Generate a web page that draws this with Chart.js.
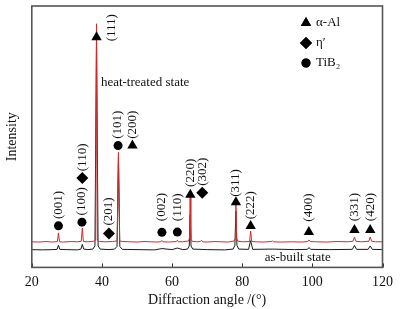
<!DOCTYPE html>
<html>
<head>
<meta charset="utf-8">
<script src="https://cdn.jsdelivr.net/npm/chart.js@4"></script>
<style>
  html, body { margin: 0; padding: 0; background: #fff; }
  #wrap { width: 400px; height: 309px; }
</style>
</head>
<body>
<div id="wrap"><canvas id="xrd"></canvas></div>
<script>
// Heat-treated pattern (red)
const redAngle = [20, 22, 24, 26, 27.3, 27.6, 27.9, 29, 31, 33, 34.1, 34.4, 34.7, 36, 37.6, 38.2, 38.45, 38.7, 39.3,
  41, 43, 44.35, 44.7, 45.05, 45.8, 48, 50, 52, 54, 56, 56.8, 57.1, 57.4, 59, 61.2, 61.5, 61.8, 63, 64.7, 64.95, 65.15,
  65.35, 65.7, 67, 68.1, 68.4, 68.7, 70, 72, 74, 76, 77.7, 78.0, 78.2, 78.4, 78.8, 80, 82.1, 82.4, 82.7, 84, 86, 88.3,
  88.6, 88.9, 91, 94, 97, 98.7, 99.05, 99.4, 101, 104, 107, 110, 111.6, 112.0, 112.4, 114, 116.1, 116.5, 116.9, 118, 120];
const redIntensity = [98, 97, 99, 97, 99, 132, 98, 97, 99, 98, 100, 150, 99, 98, 100, 104, 932, 104, 99,
  98, 99, 101, 440, 101, 99, 98, 97, 99, 98, 97, 99, 103, 98, 97, 99, 104, 98, 98, 101, 110, 268,
  110, 100, 98, 99, 104, 98, 97, 99, 98, 97, 101, 110, 244, 110, 100, 98, 99, 139, 99, 98, 97, 99,
  102, 98, 97, 98, 97, 99, 105, 99, 98, 97, 99, 98, 100, 116, 100, 98, 100, 116, 100, 98, 98];

// As-built pattern (black)
const blackAngle = [20, 23, 26, 27.2, 27.6, 28.0, 30, 33, 34.0, 34.4, 34.8, 36, 37.4, 38.0, 38.45, 38.9, 39.5,
  42, 43.6, 44.3, 44.7, 45.1, 45.8, 50, 55, 57.1, 60, 61.5, 63, 64.4, 64.9, 65.15, 65.4, 65.9, 70, 75, 77.4, 77.9,
  78.2, 78.5, 79.0, 81.8, 82.4, 83.0, 88.6, 95, 98.6, 99.05, 99.5, 105, 111.4, 112.0, 112.6, 115.9, 116.5, 117.1, 120];
const blackIntensity = [68, 67, 68, 69, 85, 69, 68, 67, 70, 88, 70, 68, 70, 82, 880, 82, 70,
  68, 70, 80, 420, 80, 69, 68, 67, 72, 68, 74, 68, 70, 82, 200, 82, 70, 68, 67, 70, 84,
  215, 84, 70, 69, 102, 69, 70, 68, 69, 76, 69, 68, 69, 84, 69, 69, 82, 69, 68];

// Phase markers (angle, intensity)
const alAngle = [38.46, 48.7, 65.2, 78.2, 82.4, 99.0, 112.0, 116.5];
const alIntensity = [880, 466, 278, 249, 158, 135, 143, 143];
const etaAngle = [34.4, 42.0, 68.6];
const etaIntensity = [342, 130, 286];
const tib2Angle = [27.6, 34.3, 44.6, 57.1, 61.5];
const tib2Intensity = [159, 173, 466, 134, 135];

// Miller index labels (rotated), anchored at their lower end
const hklText = ['(111)', '(001)', '(100)', '(110)', '(201)', '(101)', '(200)', '(002)', '(110)',
  '(220)', '(302)', '(311)', '(222)', '(400)', '(331)', '(420)'];
const hklAngle = [42.7, 27.6, 34.3, 34.4, 42.0, 44.6, 48.7, 57.1, 61.5, 65.2, 68.6, 78.2, 82.4, 99.0, 112.0, 116.5];
const hklIntensity = [865, 185, 199, 368, 160, 492, 492, 177, 177, 308, 312, 270, 184, 175, 177, 177];

const legendText = ['α-Al', 'η′', 'TiB₂'];
const legendStyle = ['triangle', 'rectRot', 'circle'];

const SERIF = "'Liberation Serif', 'DejaVu Serif', serif";
const toXY = (xs, ys) => xs.map((x, i) => ({ x: x, y: ys[i] }));

const framePlugin = {
  id: 'frame',
  afterDraw(chart) {
    const { ctx, chartArea: a, scales } = chart;
    ctx.save();
    // inward ticks on the angle axis
    ctx.strokeStyle = '#333';
    ctx.lineWidth = 1;
    scales.x.ticks.forEach(t => {
      const px = Math.round(scales.x.getPixelForValue(t.value)) + 0.5;
      ctx.beginPath();
      ctx.moveTo(px, a.bottom);
      ctx.lineTo(px, a.bottom - 4);
      ctx.stroke();
    });
    ctx.strokeStyle = '#555';
    ctx.lineWidth = 1.6;
    ctx.strokeRect(a.left, a.top, a.right - a.left, a.bottom - a.top);
    ctx.restore();
  }
};

const labelPlugin = {
  id: 'hkl',
  afterDatasetsDraw(chart) {
    const { ctx, scales } = chart;
    ctx.save();
    ctx.fillStyle = '#111';
    ctx.font = '13px ' + SERIF;
    ctx.textAlign = 'left';
    ctx.textBaseline = 'middle';
    hklText.forEach((txt, i) => {
      const px = scales.x.getPixelForValue(hklAngle[i]);
      const py = scales.y.getPixelForValue(hklIntensity[i]);
      ctx.save();
      ctx.translate(px, py);
      ctx.rotate(-Math.PI / 2);
      ctx.fillText(txt, 0, 0);
      ctx.restore();
    });
    // pattern names
    ctx.fillText('heat-treated state', scales.x.getPixelForValue(39.7), scales.y.getPixelForValue(707));
    ctx.fillText('as-built state', scales.x.getPixelForValue(86.4), scales.y.getPixelForValue(38));

    // legend
    legendText.forEach((txt, i) => {
      const y = 23 + i * 20;
      ctx.fillStyle = '#000';
      Chart.helpers.drawPoint(ctx, { pointStyle: legendStyle[i], radius: i === 2 ? 4.5 : 6, rotation: 0, borderWidth: 0 }, 306, y);
      ctx.fill();
      ctx.fillStyle = '#111';
      ctx.fillText(txt, 316, y);
    });
    ctx.restore();
  }
};

new Chart(document.getElementById('xrd').getContext('2d'), {
  type: 'line',
  data: {
    datasets: [
      { label: 'α-Al', data: toXY(alAngle, alIntensity), showLine: false, pointStyle: 'triangle',
        pointRadius: 6, backgroundColor: '#000', borderColor: '#000', borderWidth: 0, order: 0 },
      { label: 'η′', data: toXY(etaAngle, etaIntensity), showLine: false, pointStyle: 'rectRot',
        pointRadius: 6, backgroundColor: '#000', borderColor: '#000', borderWidth: 0, order: 0 },
      { label: 'TiB2', data: toXY(tib2Angle, tib2Intensity), showLine: false, pointStyle: 'circle',
        pointRadius: 4.5, backgroundColor: '#000', borderColor: '#000', borderWidth: 0, order: 0 },
      { label: 'heat-treated', data: toXY(redAngle, redIntensity), borderColor: '#d42a2a',
        borderWidth: 1, pointRadius: 0, tension: 0, order: 1 },
      { label: 'as-built', data: toXY(blackAngle, blackIntensity), borderColor: '#1a1a1a',
        borderWidth: 1, pointRadius: 0, tension: 0, order: 2 },
    ]
  },
  options: {
    responsive: true,
    maintainAspectRatio: false,
    animation: false,
    layout: { padding: { left: 0, right: 17, top: 3, bottom: 0 } },
    plugins: { legend: { display: false }, tooltip: { enabled: false } },
    scales: {
      x: {
        type: 'linear', min: 20, max: 120,
        grid: { display: false, drawTicks: false },
        border: { display: false },
        ticks: { stepSize: 20, padding: 7, color: '#111', font: { family: SERIF, size: 14 } },
        title: { display: true, text: 'Diffraction angle /(°)', color: '#111',
          padding: { top: -6, bottom: 0 }, font: { family: SERIF, size: 14 } }
      },
      y: {
        min: 0, max: 1000,
        grid: { display: false, drawTicks: false },
        border: { display: false },
        ticks: { display: false },
        title: { display: true, text: 'Intensity', color: '#111',
          padding: { top: 4, bottom: 11 }, font: { family: SERIF, size: 14 } }
      }
    }
  },
  plugins: [framePlugin, labelPlugin]
});
</script>
</body>
</html>
